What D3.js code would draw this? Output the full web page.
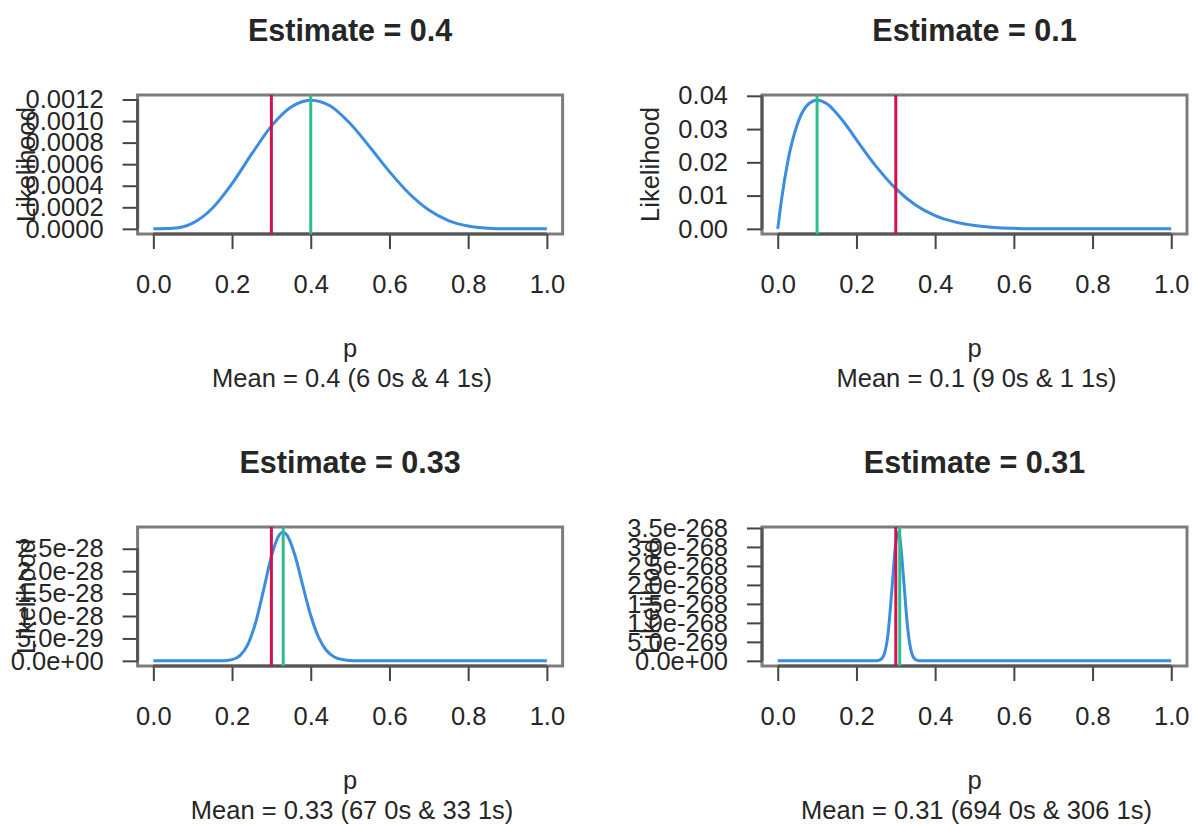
<!DOCTYPE html>
<html>
<head>
<meta charset="utf-8">
<script src="https://cdn.jsdelivr.net/npm/d3@7"></script>
<style>
	body { margin: 0; background: #fff; }
	text { font-family: "Liberation Sans", Arial, sans-serif; fill: #262626; }
</style>
</head>
<body>
<svg id="chart" width="1192" height="824"></svg>
<script>
// values
const titles = ['Estimate = 0.4', 'Estimate = 0.1', 'Estimate = 0.33', 'Estimate = 0.31'];
const subtitles = ['Mean = 0.4 (6 0s & 4 1s)', 'Mean = 0.1 (9 0s & 1 1s)', 'Mean = 0.33 (67 0s & 33 1s)', 'Mean = 0.31 (694 0s & 306 1s)'];
const estimates = [0.4, 0.1, 0.33, 0.31];
const trueP = 0.3;

const xTicks = [0, 0.2, 0.4, 0.6, 0.8, 1.0];

const p1 = [0, 0.05, 0.1, 0.15, 0.2, 0.25, 0.3, 0.35, 0.4, 0.45, 0.5, 0.55, 0.6, 0.65, 0.7, 0.75, 0.8, 0.85, 0.9, 0.95, 1];
const like1 = [0, 0.0000046, 0.0000531, 0.000191, 0.000419, 0.000695, 0.000953, 0.00113, 0.001194, 0.00114, 0.000977, 0.00076, 0.000531, 0.000328, 0.000175, 0.0000773, 0.0000262, 0.000006, 0.0000007, 0, 0];

const p2 = [0, 0.01, 0.025, 0.05, 0.075, 0.1, 0.125, 0.15, 0.175, 0.2, 0.25, 0.3, 0.35, 0.4, 0.45, 0.5, 0.55, 0.6, 0.65, 0.7, 0.75, 0.8, 0.85, 0.9, 0.95, 1];
const like2 = [0, 0.0091, 0.0199, 0.0315, 0.0372, 0.0387, 0.0376, 0.0347, 0.031, 0.0268, 0.0188, 0.0121, 0.0072, 0.004, 0.0021, 0.001, 0.0004, 0.00016, 0.00005, 0.00001, 0, 0, 0, 0, 0, 0];

const p3 = [0, 0.1, 0.16, 0.18, 0.2, 0.22, 0.24, 0.26, 0.28, 0.3, 0.32, 0.33, 0.34, 0.36, 0.38, 0.4, 0.42, 0.44, 0.46, 0.48, 0.5, 0.52, 0.6, 0.8, 1];
const like3 = [0, 0, 5e-32, 4.5e-31, 2.7e-30, 1.18e-29, 3.64e-29, 8.56e-29, 1.575e-28, 2.33e-28, 2.81e-28, 2.87e-28, 2.8e-28, 2.35e-28, 1.67e-28, 1.01e-28, 5.21e-29, 2.3e-29, 8.75e-30, 2.84e-30, 7.9e-31, 2e-31, 0, 0, 0];

const p4 = [0, 0.2, 0.25, 0.26, 0.27, 0.28, 0.29, 0.3, 0.306, 0.31, 0.32, 0.33, 0.34, 0.35, 0.36, 0.37, 0.4, 0.6, 0.8, 1];
const like4 = [0, 0, 2e-271, 2.3e-270, 1.6e-269, 6.9e-269, 1.86e-268, 3.11e-268, 3.39e-268, 3.26e-268, 2.14e-268, 8.75e-269, 2.2e-269, 3.6e-270, 3e-271, 0, 0, 0, 0, 0];

const yTicks1 = [0, 0.0002, 0.0004, 0.0006, 0.0008, 0.0010, 0.0012];
const yLabels1 = ['0.0000', '0.0002', '0.0004', '0.0006', '0.0008', '0.0010', '0.0012'];
const yTicks2 = [0, 0.01, 0.02, 0.03, 0.04];
const yLabels2 = ['0.00', '0.01', '0.02', '0.03', '0.04'];
const yTicks3 = [0, 5e-29, 1e-28, 1.5e-28, 2e-28, 2.5e-28];
const yLabels3 = ['0.0e+00', '5.0e-29', '1.0e-28', '1.5e-28', '2.0e-28', '2.5e-28'];
const yTicks4 = [0, 5e-269, 1e-268, 1.5e-268, 2e-268, 2.5e-268, 3e-268, 3.5e-268];
const yLabels4 = ['0.0e+00', '5.0e-269', '1.0e-268', '1.5e-268', '2.0e-268', '2.5e-268', '3.0e-268', '3.5e-268'];

const panels = [
	{ p: p1, y: like1, ticks: yTicks1, labels: yLabels1 },
	{ p: p2, y: like2, ticks: yTicks2, labels: yLabels2 },
	{ p: p3, y: like3, ticks: yTicks3, labels: yLabels3 },
	{ p: p4, y: like4, ticks: yTicks4, labels: yLabels4 }
];

const colLeft = [137.6, 762];
const rowTop = [95, 527];
const plotWidth = 425;
const plotHeight = 139;
const fontSize = 25.5;

const svg = d3.select('#chart');

panels.forEach(function(panel, i) {
	let left = colLeft[i % 2];
	let top = rowTop[Math.floor(i / 2)];
	let cx = left + plotWidth / 2;
	let ymax = d3.max(panel.y);

	let x = d3.scaleLinear().domain([-0.04, 1.04]).range([left, left + plotWidth]);
	let y = d3.scaleLinear().domain([-0.04 * ymax, 1.04 * ymax]).range([top + plotHeight, top]);

	let g = svg.append('g');

	// y label sits behind the tick labels, as in the original
	g.append('text')
		.attr('transform', 'translate(' + (left - 112) + ',' + (top + plotHeight / 2) + ') rotate(-90)')
		.attr('text-anchor', 'middle')
		.attr('dominant-baseline', 'central')
		.style('font-size', fontSize + 'px')
		.text('Likelihood');

	// box
	g.append('rect')
		.attr('x', left).attr('y', top)
		.attr('width', plotWidth).attr('height', plotHeight)
		.attr('fill', 'none')
		.attr('stroke', '#7c7c7c')
		.attr('stroke-width', 3);

	// x axis
	let xAxis = g.append('g')
		.attr('transform', 'translate(0,' + (top + plotHeight) + ')')
		.call(d3.axisBottom(x).tickValues(xTicks).tickFormat(d3.format('.1f')).tickSize(15).tickPadding(26));
	xAxis.select('.domain').remove();
	xAxis.append('line')
		.attr('x1', x(xTicks[0])).attr('x2', x(xTicks[xTicks.length - 1]))
		.attr('stroke', '#555').attr('stroke-width', 3);

	// y axis
	let yAxis = g.append('g')
		.attr('transform', 'translate(' + left + ',0)')
		.call(d3.axisLeft(y).tickValues(panel.ticks).tickFormat(function(d, k) { return panel.labels[k]; }).tickSize(15).tickPadding(19));
	yAxis.select('.domain').remove();
	yAxis.append('line')
		.attr('y1', y(panel.ticks[0])).attr('y2', y(panel.ticks[panel.ticks.length - 1]))
		.attr('stroke', '#555').attr('stroke-width', 3);

	[xAxis, yAxis].forEach(function(a) {
		a.attr('font-family', null).attr('font-size', null);
		a.selectAll('.tick line').attr('stroke', '#444').attr('stroke-width', 2);
		a.selectAll('.tick text').attr('fill', '#262626').style('font-size', fontSize + 'px');
	});

	// curve
	let line = d3.line()
		.x(function(d, k) { return x(panel.p[k]); })
		.y(function(d) { return y(d); })
		.curve(d3.curveMonotoneX);

	g.append('path')
		.datum(panel.y)
		.attr('d', line)
		.attr('fill', 'none')
		.attr('stroke', '#3a8de0')
		.attr('stroke-width', 3);

	// true p and estimate
	g.append('line')
		.attr('x1', x(trueP)).attr('x2', x(trueP))
		.attr('y1', top).attr('y2', top + plotHeight)
		.attr('stroke', '#d3124a').attr('stroke-width', 3);
	g.append('line')
		.attr('x1', x(estimates[i])).attr('x2', x(estimates[i]))
		.attr('y1', top).attr('y2', top + plotHeight)
		.attr('stroke', '#2bbf8d').attr('stroke-width', 3);

	// titles
	g.append('text')
		.attr('x', cx).attr('y', top - 54)
		.attr('text-anchor', 'middle')
		.style('font-size', '30.5px')
		.style('font-weight', 'bold')
		.text(titles[i]);
	g.append('text')
		.attr('x', cx).attr('y', top + plotHeight + 123)
		.attr('text-anchor', 'middle')
		.style('font-size', fontSize + 'px')
		.text('p');
	g.append('text')
		.attr('x', cx + 2).attr('y', top + plotHeight + 153)
		.attr('text-anchor', 'middle')
		.style('font-size', fontSize + 'px')
		.text(subtitles[i]);
});
</script>
</body>
</html>
